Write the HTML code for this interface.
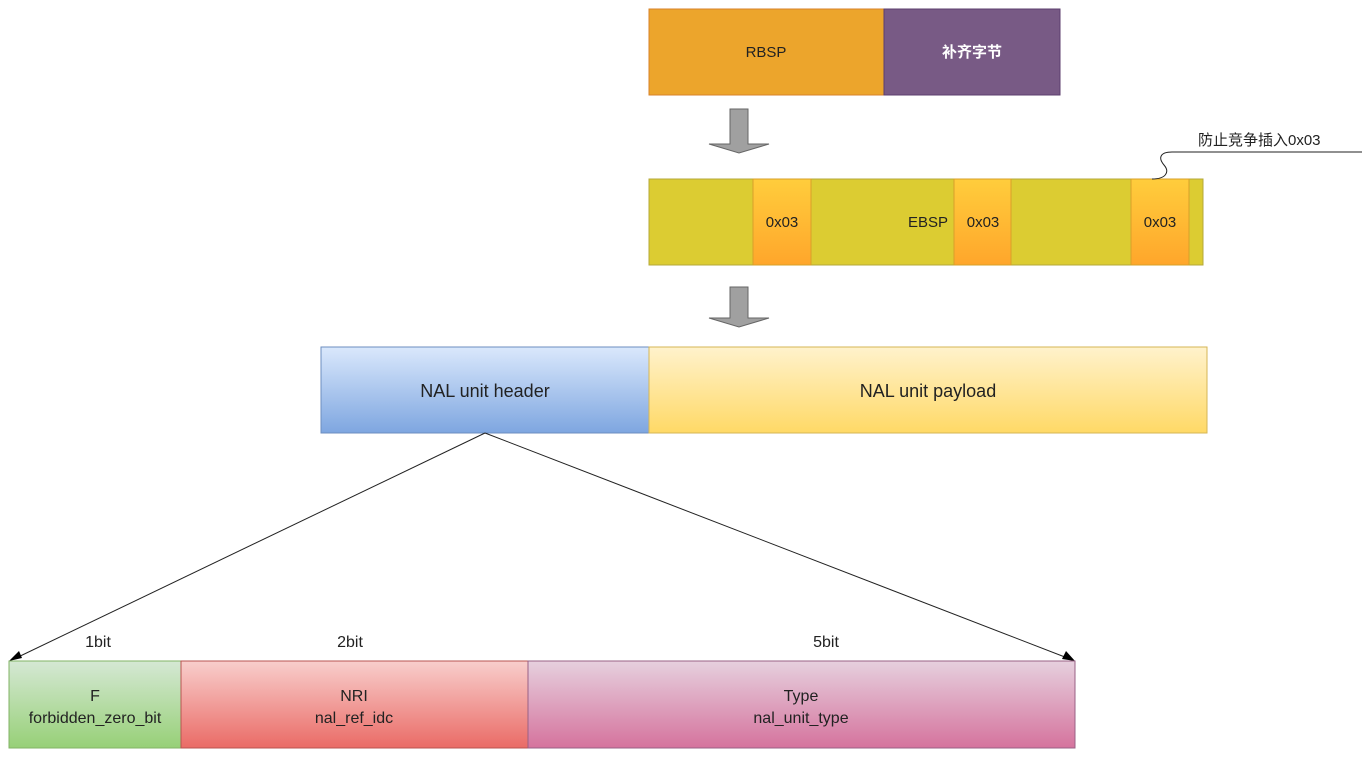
<!DOCTYPE html>
<html><head><meta charset="utf-8"><style>
html,body{margin:0;padding:0;background:#fff;}
svg{display:block;}
text{font-family:"Liberation Sans","Noto Sans CJK SC",sans-serif;}
</style></head><body>
<svg width="1362" height="759" viewBox="0 0 1362 759" xmlns="http://www.w3.org/2000/svg">
<defs>
<linearGradient id="blue" x1="0" y1="0" x2="0" y2="1"><stop offset="0" stop-color="#dae8fc"/><stop offset="1" stop-color="#7ea6e0"/></linearGradient>
<linearGradient id="yel" x1="0" y1="0" x2="0" y2="1"><stop offset="0" stop-color="#fff2cc"/><stop offset="1" stop-color="#ffd966"/></linearGradient>
<linearGradient id="grn" x1="0" y1="0" x2="0" y2="1"><stop offset="0" stop-color="#d5e8d4"/><stop offset="1" stop-color="#97d077"/></linearGradient>
<linearGradient id="red" x1="0" y1="0" x2="0" y2="1"><stop offset="0" stop-color="#f8cecc"/><stop offset="1" stop-color="#ea6b66"/></linearGradient>
<linearGradient id="pink" x1="0" y1="0" x2="0" y2="1"><stop offset="0" stop-color="#e6d0de"/><stop offset="1" stop-color="#d5739d"/></linearGradient>
<linearGradient id="org" x1="0" y1="0" x2="0" y2="1"><stop offset="0" stop-color="#ffcd3c"/><stop offset="1" stop-color="#ffa62b"/></linearGradient>
</defs>
<!-- top row -->
<rect x="649" y="9" width="235" height="86" fill="#eca52c" stroke="#d7822a"/>
<rect x="884" y="9" width="176" height="86" fill="#785a85" stroke="#5c3f6e"/>
<text x="766" y="57" font-size="15" text-anchor="middle" fill="#222">RBSP</text>
<text x="972" y="57" font-size="15" text-anchor="middle" fill="#fff" font-weight="bold">补齐字节</text>
<!-- arrows -->
<polygon points="730,109 748,109 748,144 769,144 739,153 709,144 730,144" fill="#a0a0a0" stroke="#666"/>
<polygon points="730,287 748,287 748,318 769,318 739,327 709,318 730,318" fill="#a0a0a0" stroke="#666"/>
<!-- EBSP -->
<rect x="649" y="179" width="554" height="86" fill="#dccc32" stroke="#b5a83a"/>
<rect x="753" y="179" width="58" height="86" fill="url(#org)" stroke="#d7a02a"/>
<rect x="954" y="179" width="57" height="86" fill="url(#org)" stroke="#d7a02a"/>
<rect x="1131" y="179" width="58" height="86" fill="url(#org)" stroke="#d7a02a"/>
<text x="782" y="227" font-size="15" text-anchor="middle" fill="#222">0x03</text>
<text x="983" y="227" font-size="15" text-anchor="middle" fill="#222">0x03</text>
<text x="1160" y="227" font-size="15" text-anchor="middle" fill="#222">0x03</text>
<text x="948" y="227" font-size="15" text-anchor="end" fill="#222">EBSP</text>
<!-- callout -->
<path d="M1362,152 L1172,152 C1160,152 1158,158 1164,165 C1170,172 1166,179 1152,179" fill="none" stroke="#222" stroke-width="1"/>
<text x="1198" y="145" font-size="15" fill="#222">防止竞争插入0x03</text>
<!-- NAL -->
<rect x="321" y="347" width="328" height="86" fill="url(#blue)" stroke="#6c8ebf"/>
<rect x="649" y="347" width="558" height="86" fill="url(#yel)" stroke="#d6b656"/>
<text x="485" y="397" font-size="18" text-anchor="middle" fill="#222">NAL unit header</text>
<text x="928" y="397" font-size="18" text-anchor="middle" fill="#222">NAL unit payload</text>
<!-- lines -->
<line x1="485" y1="433" x2="14" y2="659" stroke="#222"/>
<line x1="485" y1="433" x2="1070" y2="659" stroke="#222"/>
<polygon points="9,661 19,651 22,658" fill="#000"/>
<polygon points="1075,661 1062,659 1066,651" fill="#000"/>
<!-- bottom -->
<rect x="9" y="661" width="172" height="87" fill="url(#grn)" stroke="#82b366"/>
<rect x="181" y="661" width="347" height="87" fill="url(#red)" stroke="#b85450"/>
<rect x="528" y="661" width="547" height="87" fill="url(#pink)" stroke="#996185"/>
<text x="95" y="701" font-size="16" text-anchor="middle" fill="#222">F</text>
<text x="95" y="723" font-size="16" text-anchor="middle" fill="#222">forbidden_zero_bit</text>
<text x="354" y="701" font-size="16" text-anchor="middle" fill="#222">NRI</text>
<text x="354" y="723" font-size="16" text-anchor="middle" fill="#222">nal_ref_idc</text>
<text x="801" y="701" font-size="16" text-anchor="middle" fill="#222">Type</text>
<text x="801" y="723" font-size="16" text-anchor="middle" fill="#222">nal_unit_type</text>
<text x="98" y="647" font-size="16" text-anchor="middle" fill="#222">1bit</text>
<text x="350" y="647" font-size="16" text-anchor="middle" fill="#222">2bit</text>
<text x="826" y="647" font-size="16" text-anchor="middle" fill="#222">5bit</text>
</svg>
</body></html>
